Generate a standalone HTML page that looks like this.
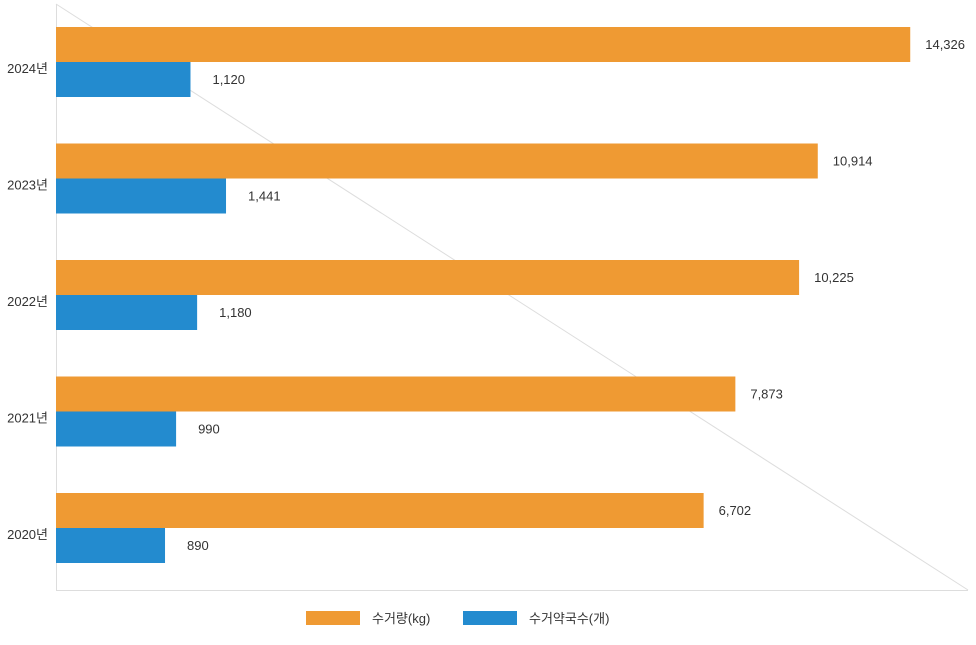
<!DOCTYPE html>
<html><head><meta charset="utf-8"><style>
body{margin:0;background:#fff;font-family:"Liberation Sans","Noto Sans CJK KR",sans-serif}
text{font-family:"Liberation Sans","Noto Sans CJK KR",sans-serif;font-size:13px;fill:#333}
</style></head><body>
<svg id="c" width="976" height="640">
<line x1="56" y1="4" x2="968" y2="590" stroke="#ddd" stroke-width="1"/>
<line x1="56.5" y1="4" x2="56.5" y2="590" stroke="#ddd"/>
<line x1="56" y1="590.5" x2="968" y2="590.5" stroke="#ddd"/>
<g id="bars"></g>
<g>
<rect x="306" y="611" width="54" height="14" fill="#ef9a33"/>
<text x="372" y="623">수거량(kg)</text>
<rect x="463" y="611" width="54" height="14" fill="#238bcf"/>
<text x="529" y="623">수거약국수(개)</text>
</g>
</svg>
<script>
const categories=["2024년","2023년","2022년","2021년","2020년"];
const weightValues=[14326,10914,10225,7873,6702];
const pharmacyValues=[1120,1441,1180,990,890];
const NS="http://www.w3.org/2000/svg";
const g=document.getElementById("bars");
function xW(v){return 522+0.0271*v;}
function xP(v){return 10.5+0.1107*v;}
function yBand(i){return 27+i*116.5;}
const fmt=v=>v.toLocaleString("en-US");
function mk(t,a){const e=document.createElementNS(NS,t);for(const k in a)e.setAttribute(k,a[k]);g.appendChild(e);return e;}
categories.forEach((c,i)=>{
  const y=yBand(i);
  const r1=mk("rect",{x:56,y:y,width:xW(weightValues[i])-56,height:35,fill:"#ef9a33"});
  
  
  const r2=mk("rect",{x:56,y:y+35,width:xP(pharmacyValues[i]),height:35,fill:"#238bcf"});
  
  
  const t1=mk("text",{x:xW(weightValues[i])+15,y:y+22});t1.textContent=fmt(weightValues[i]);
  
  
  const t2=mk("text",{x:56+xP(pharmacyValues[i])+22,y:y+57});t2.textContent=fmt(pharmacyValues[i]);
  
  
  const t3=mk("text",{x:48,y:y+46,"text-anchor":"end"});t3.textContent=c;
  
  
});
</script>
</body></html>
